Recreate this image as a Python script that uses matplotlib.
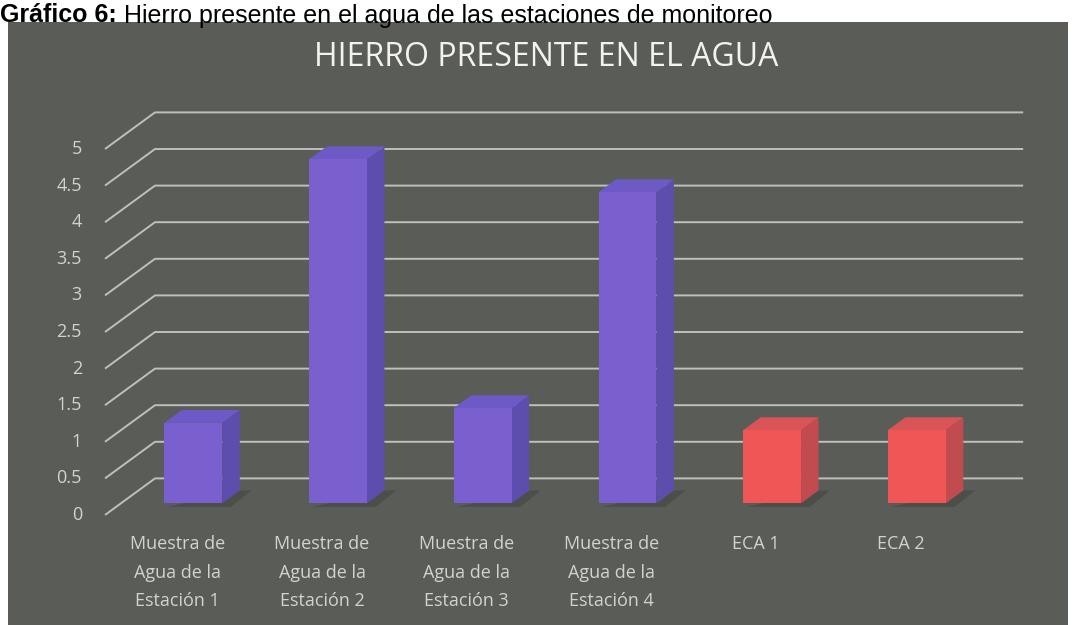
import numpy as np
import matplotlib.pyplot as plt
from matplotlib.patches import Polygon

# datos del grafico
categorias = ["Muestra de\nAgua de la\nEstación 1", "Muestra de\nAgua de la\nEstación 2",
              "Muestra de\nAgua de la\nEstación 3", "Muestra de\nAgua de la\nEstación 4",
              "ECA 1", "ECA 2"]
hierro = [1.1, 4.7, 1.3, 4.25, 1.0, 1.0]
tipo = ["muestra", "muestra", "muestra", "muestra", "eca", "eca"]
ticks_y = [0, 0.5, 1, 1.5, 2, 2.5, 3, 3.5, 4, 4.5, 5]
etiquetas_y = ["0", "0.5", "1", "1.5", "2", "2.5", "3", "3.5", "4", "4.5", "5"]

titulo = "HIERRO PRESENTE EN EL AGUA"
leyenda_fig = "Gráfico 6:"
texto_fig = " Hierro presente en el agua de las estaciones de monitoreo"

# colores (frente, lado, techo)
caras = {"muestra": ("#7a60cf", "#5d4eae", "#6d5ac6"),
         "eca": ("#ef5656", "#c24b50", "#d85456")}
fondo = "#5a5c58"
gris_linea = "#bfc0bb"
gris_texto = "#d2d3cf"

# geometria en pixeles de la imagen original
W, H = 1075, 625
px_cat = 144.7      # pixeles por categoria
px_val = 73.2       # pixeles por unidad
x0_px, y0_px = 105, 515   # esquina frontal izquierda, valor 0
prof_dx = 50 / px_cat      # vector de profundidad
prof_dy = 0.5
f0, f1 = 0.32, 0.67        # profundidad de las barras
ancho = 0.40

fig = plt.figure(figsize=(W / 100, H / 100), dpi=100)
fig.patch.set_facecolor("white")

izq, der, arr = 8, 1068, 22
ax = fig.add_axes([izq / W, 0, (der - izq) / W, (H - arr) / H])
ax.set_facecolor(fondo)
ax.set_xlim(-0.5 - (x0_px - izq) / px_cat, -0.5 + (der - x0_px) / px_cat)
ax.set_ylim(-(H - y0_px) / px_val, (y0_px - arr) / px_val)
for s in ax.spines.values():
    s.set_visible(False)
ax.set_xticks([])
ax.set_yticks([])

n = len(categorias)
# lineas de division (pared + fondo)
for v, et in zip(ticks_y, etiquetas_y):
    ax.plot([-0.5, -0.5 + prof_dx, n - 0.5 + prof_dx], [v, v + prof_dy, v + prof_dy],
            color=gris_linea, lw=1.4, zorder=1, solid_capstyle="butt")
    ax.text(-0.5 - 23 / px_cat, v, et, ha="right", va="center", fontsize=13,
            color=gris_texto, family="Open Sans")

# barras 3d
for i, (v, t) in enumerate(zip(hierro, tipo)):
    frente, lado, techo = caras[t]
    xa = i - ancho / 2 + f0 * prof_dx
    xb = xa + ancho
    yb = f0 * prof_dy
    ddx = (f1 - f0) * prof_dx
    ddy = (f1 - f0) * prof_dy
    # sombra
    ax.add_patch(Polygon([(xa + 0.02, yb - 0.05), (xb + 0.06, yb - 0.05),
                          (xb + ddx + 0.08, yb + ddy), (xb + ddx, yb + ddy)],
                         closed=True, facecolor="black", alpha=0.15, lw=0, zorder=2))
    ax.add_patch(Polygon([(xb, yb), (xb + ddx, yb + ddy), (xb + ddx, yb + ddy + v), (xb, yb + v)],
                         closed=True, facecolor=lado, edgecolor="none", zorder=3))
    ax.add_patch(Polygon([(xa, yb + v), (xb, yb + v), (xb + ddx, yb + ddy + v), (xa + ddx, yb + ddy + v)],
                         closed=True, facecolor=techo, edgecolor="none", zorder=3))
    ax.add_patch(Polygon([(xa, yb), (xb, yb), (xb, yb + v), (xa, yb + v)],
                         closed=True, facecolor=frente, edgecolor="none", zorder=4))

# etiquetas de categoria
for i, c in enumerate(categorias):
    ax.text(i, -0.28, c, ha="center", va="top", fontsize=13, color=gris_texto,
            family="Open Sans", linespacing=1.72)

# titulo del grafico
fig.text(546 / W, 1 - 57 / H, titulo, ha="center", va="center", fontsize=23,
         color="#f2f2ee", family="Open Sans", fontweight="medium")

# leyenda de la figura, arriba del recuadro gris
t1 = fig.text(0.0, 1 - 22.5 / H, leyenda_fig, ha="left", va="baseline", fontsize=18,
              fontweight="bold", color="black", family="Liberation Sans", zorder=5)
ax.annotate(texto_fig, xy=(1, 0), xycoords=t1, ha="left", va="bottom", fontsize=18,
            color="black", family="Liberation Sans", annotation_clip=False, zorder=5)

fig.savefig("out.png", dpi=100, facecolor="white")
